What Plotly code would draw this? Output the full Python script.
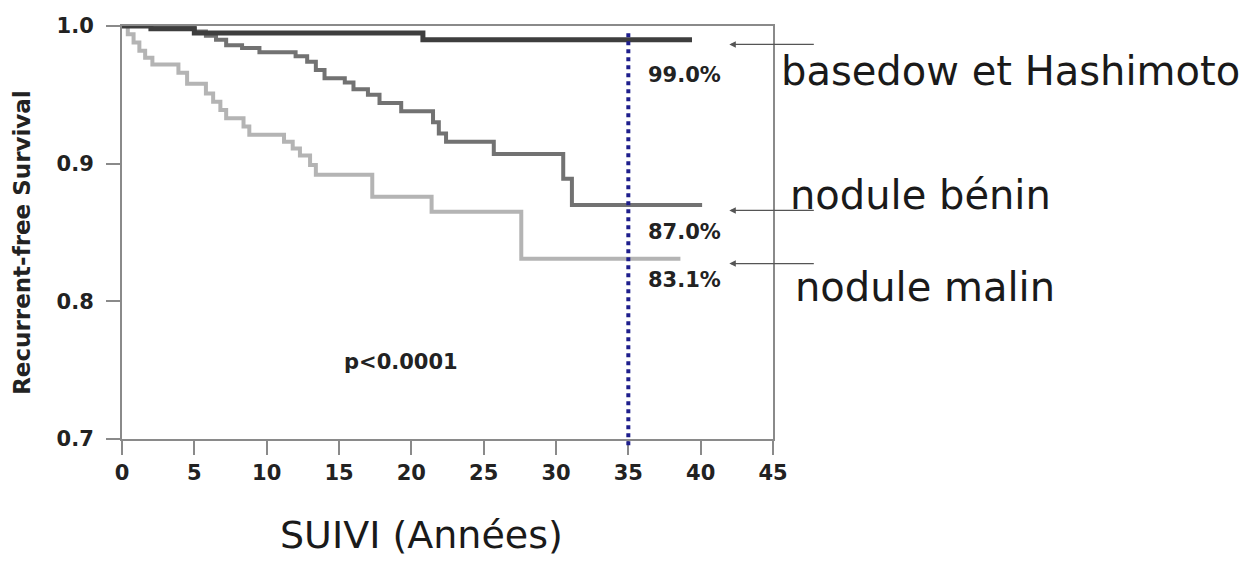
import plotly.graph_objects as go

# Follow-up (years) and recurrence-free survival, step curves per group
basedow_years = [0, 2.0, 5.0, 20.8, 39.4]
basedow_surv = [1.0, 0.998, 0.995, 0.990, 0.990]

benin_years = [0, 5.0, 5.8, 6.5, 7.2, 8.3, 9.5, 12.0, 12.8, 13.4, 14.0, 15.4,
               16.0, 17.0, 17.8, 19.3, 21.5, 21.9, 22.4, 25.7, 30.5, 31.1, 40.1]
benin_surv = [1.0, 0.996, 0.993, 0.990, 0.986, 0.984, 0.981, 0.978, 0.974, 0.968,
              0.962, 0.959, 0.954, 0.950, 0.944, 0.938, 0.930, 0.922, 0.916,
              0.907, 0.889, 0.870, 0.870]

malin_years = [0, 0.4, 0.8, 1.2, 1.6, 2.1, 3.9, 4.5, 5.8, 6.3, 6.8, 7.2, 8.4,
               8.8, 11.2, 11.8, 12.3, 13.0, 13.4, 17.3, 21.4, 27.6, 38.6]
malin_surv = [1.0, 0.994, 0.988, 0.982, 0.977, 0.972, 0.966, 0.958, 0.951, 0.945,
              0.939, 0.933, 0.927, 0.921, 0.916, 0.911, 0.906, 0.899, 0.892,
              0.876, 0.865, 0.831, 0.831]

group_names = ["basedow et Hashimoto", "nodule bénin", "nodule malin"]
x_ticks = [0, 5, 10, 15, 20, 25, 30, 35, 40, 45]
y_ticks = [0.7, 0.8, 0.9, 1.0]
landmark_year = 35
p_value_text = "p<0.0001"


def surv_at(years, surv, t):
    """Value of a right-continuous step curve at time t."""
    val = surv[0]
    for yr, s in zip(years, surv):
        if yr <= t:
            val = s
    return val


BOLD = dict(family="DejaVu Sans", size=21, color="#222222", weight="bold")
LABEL = dict(family="DejaVu Sans", size=40, color="#1a1a1a")

fig = go.Figure()

series = [
    (malin_years, malin_surv, "#b4b4b4", 4),
    (benin_years, benin_surv, "#727272", 4),
    (basedow_years, basedow_surv, "#3e3e3e", 5),
]
for yrs, sv, col, w in series:
    fig.add_trace(go.Scatter(x=yrs, y=sv, mode="lines", line_shape="hv",
                             line=dict(color=col, width=w), showlegend=False,
                             hoverinfo="skip"))

# Landmark at 35 years
fig.add_shape(type="line", xref="x", yref="paper", x0=landmark_year, x1=landmark_year,
              y0=-0.015, y1=0.99, line=dict(color="#1e1e8c", width=4, dash="dot"))

annotations = []

# Survival at the landmark, written under each curve
label_shift = [-35, -27, -21]
for (yrs, sv), shift in zip([(basedow_years, basedow_surv),
                             (benin_years, benin_surv),
                             (malin_years, malin_surv)], label_shift):
    v = surv_at(yrs, sv, landmark_year)
    annotations.append(dict(x=36.2, y=v, xref="x", yref="y", text=f"{v*100:.1f}%",
                            showarrow=False, xanchor="left", yanchor="middle",
                            yshift=shift, font=BOLD))

# Group names (right of the frame) with arrows pointing at the curve ends
name_pos = [(1.0093, 0.891), (1.0232, 0.5918), (1.0307, 0.3692)]
arrow_pos = [0.9866, 0.866, 0.8274]
for name, (nx, ny), ay in zip(group_names, name_pos, arrow_pos):
    annotations.append(dict(x=nx, y=ny, xref="paper", yref="paper", text=name,
                            showarrow=False, xanchor="left", yanchor="middle", font=LABEL))
    annotations.append(dict(x=41.98, y=ay, xref="x", yref="y", text="", showarrow=True,
                            ax=86, ay=0, arrowhead=2, arrowsize=1, arrowwidth=1.3,
                            arrowcolor="#555555"))

annotations.append(dict(x=19.28, y=0.7562, xref="x", yref="y", text=p_value_text,
                        showarrow=False, xanchor="center", yanchor="middle", font=BOLD))

annotations.append(dict(x=-0.154, y=0.4767, xref="paper", yref="paper",
                        text="Recurrent-free Survival", textangle=-90, showarrow=False,
                        xanchor="center", yanchor="middle",
                        font=dict(family="DejaVu Sans", size=23, color="#222222",
                                  weight="bold")))

annotations.append(dict(x=0.46, y=-0.2318, xref="paper", yref="paper",
                        text="SUIVI (Années)", showarrow=False, xanchor="center",
                        yanchor="middle",
                        font=dict(family="DejaVu Sans", size=38, color="#1a1a1a")))

axis_common = dict(showgrid=False, zeroline=False, showline=True, linecolor="#8a8a8a",
                   linewidth=2, mirror=True, ticks="outside", ticklen=14, tickwidth=2,
                   tickcolor="#8a8a8a", tickfont=BOLD)

fig.update_xaxes(range=[0, 45], tickvals=x_ticks, ticktext=[str(v) for v in x_ticks],
                 **axis_common)
fig.update_yaxes(range=[0.7, 1.0], tickvals=y_ticks, ticktext=[f"{v:.1f}" for v in y_ticks],
                 ticklabelstandoff=8, **axis_common)

fig.update_layout(width=1253, height=566, paper_bgcolor="white", plot_bgcolor="white",
                  margin=dict(l=122, r=480, t=26, b=127, pad=0),
                  annotations=annotations)

fig.write_html("out.html")
